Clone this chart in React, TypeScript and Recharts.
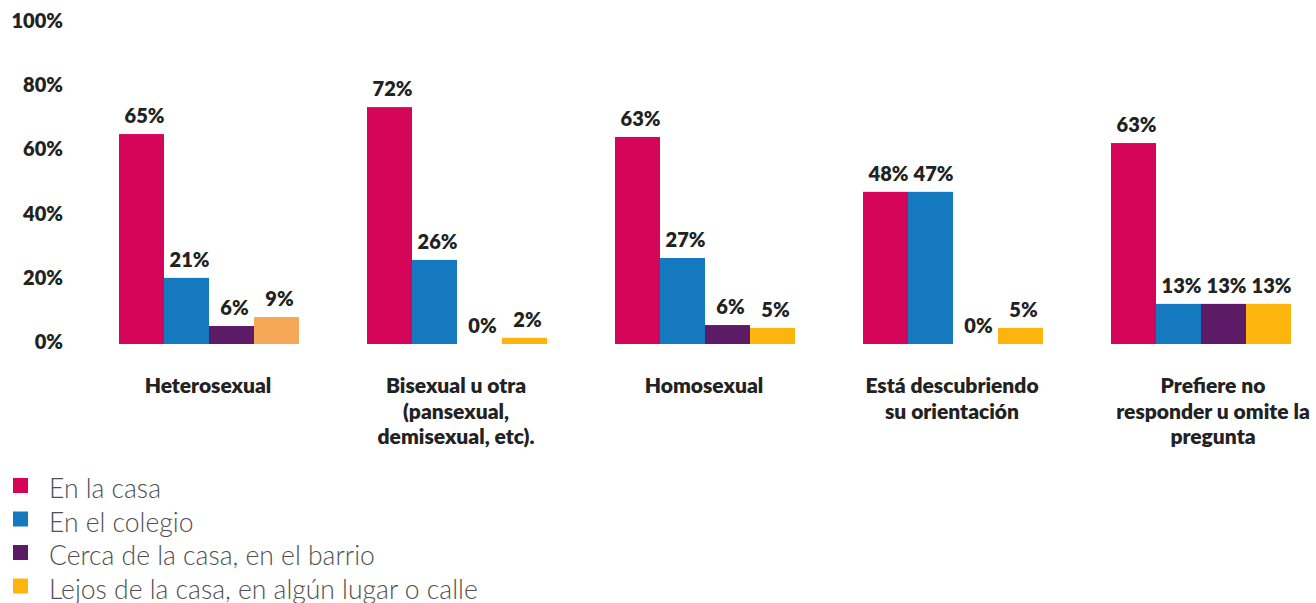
import React from 'react';
import { BarChart, Bar, XAxis, YAxis, Cell } from 'recharts';

const categories = [
  'Heterosexual',
  'Bisexual u otra\n(pansexual,\ndemisexual, etc).',
  'Homosexual',
  'Está descubriendo\nsu orientación',
  'Prefiere no\nresponder u omite la\npregunta',
];

const seriesNames = [
  'En la casa',
  'En el colegio',
  'Cerca de la casa, en el barrio',
  'Lejos de la casa, en algún lugar o calle',
];

const enLaCasa = [65.4, 73.8, 64.5, 47.4, 62.6];
const enElColegio = [20.6, 26.2, 26.8, 47.4, 12.5];
const cercaBarrio = [5.6, 0, 5.9, 0, 12.5];
const lejosCalle = [8.4, 1.95, 5.0, 5.0, 12.5];

const labelsCasa = ['65%', '72%', '63%', '48%', '63%'];
const labelsColegio = ['21%', '26%', '27%', '47%', '13%'];
const labelsBarrio = ['6%', '0%', '6%', '0%', '13%'];
const labelsCalle = ['9%', '2%', '5%', '5%', '13%'];

const yTicks = [0, 20, 40, 60, 80, 100];

const colors = ['#D50659', '#1479BF', '#5C1A67', '#FDB50D'];
const heteroLejosColor = '#F5A858';

const data = categories.map((c, i) => ({
  name: c,
  casa: enLaCasa[i],
  colegio: enElColegio[i],
  barrio: cercaBarrio[i],
  calle: lejosCalle[i],
  casaLabel: labelsCasa[i],
  colegioLabel: labelsColegio[i],
  barrioLabel: labelsBarrio[i],
  calleLabel: labelsCalle[i],
}));

const FONT = 'Lato, "Open Sans", sans-serif';

const makeShape = (labelKey: string) => (props: any) => {
  const { x, y, width, height, fill, payload } = props;
  const h = Math.max(0, Number(height) || 0);
  return (
    <g>
      {h > 0 && <rect x={x} y={y} width={width} height={h} fill={fill} />}
      <text
        x={Number(x) + Number(width) / 2 + 3}
        y={Number(y) - 11}
        textAnchor="middle"
        fontFamily={FONT}
        fontWeight={800}
        fontSize={20}
        fill="#222"
      >
        {payload[labelKey]}
      </text>
    </g>
  );
};

const YTick = (props: any) => {
  const { y, payload } = props;
  return (
    <text x={63} y={y - 2} dy="0.35em" textAnchor="end" fontFamily={FONT} fontWeight={800} fontSize={20} fill="#222">
      {`${payload.value}%`}
    </text>
  );
};

const XTick = (props: any) => {
  const { x, payload, index } = props;
  const lines = String(payload.value).split('\n');
  const cx = Number(x) + (index === categories.length - 1 ? 13 : 0);
  return (
    <text x={cx} y={393} textAnchor="middle" fontFamily={FONT} fontWeight={800} fontSize={21} fill="#222">
      {lines.map((l, i) => (
        <tspan key={i} x={cx} dy={i === 0 ? 0 : 25.5}>
          {l}
        </tspan>
      ))}
    </text>
  );
};

const LegendBlock = () => (
  <svg width={600} height={133} style={{ position: 'absolute', left: 0, top: 470 }}>
    {seriesNames.map((n, i) => {
      const base = 28 + i * 33.5;
      return (
        <g key={n}>
          <rect x={13} y={base - 20} width={15} height={15} fill={colors[i]} />
          <text x={49} y={base} fontFamily={FONT} fontWeight={300} fontSize={26.5} fill="#505050">
            {n}
          </text>
        </g>
      );
    })}
  </svg>
);

export default function App() {
  return (
    <div style={{ position: 'absolute', left: 0, top: 0, width: 1316, height: 603, overflow: 'hidden', background: '#fff' }}>
      <BarChart
        width={1340}
        height={603}
        data={data}
        margin={{ top: 23, right: 16, bottom: 0, left: 0 }}
        barCategoryGap={35}
        barGap={0}
      >
        <YAxis
          domain={[0, 100]}
          ticks={yTicks}
          width={84}
          axisLine={false}
          tickLine={false}
          tick={<YTick />}
          interval={0}
        />
        <XAxis dataKey="name" height={259} axisLine={false} tickLine={false} tick={<XTick />} interval={0} />
        <Bar dataKey="casa" name={seriesNames[0]} fill={colors[0]} isAnimationActive={false} shape={makeShape('casaLabel')} />
        <Bar dataKey="colegio" name={seriesNames[1]} fill={colors[1]} isAnimationActive={false} shape={makeShape('colegioLabel')} />
        <Bar dataKey="barrio" name={seriesNames[2]} fill={colors[2]} isAnimationActive={false} shape={makeShape('barrioLabel')} />
        <Bar dataKey="calle" name={seriesNames[3]} fill={colors[3]} isAnimationActive={false} shape={makeShape('calleLabel')}>
          {data.map((d, i) => (
            <Cell key={i} fill={i === 0 ? heteroLejosColor : colors[3]} />
          ))}
        </Bar>
      </BarChart>
      <LegendBlock />
    </div>
  );
}
